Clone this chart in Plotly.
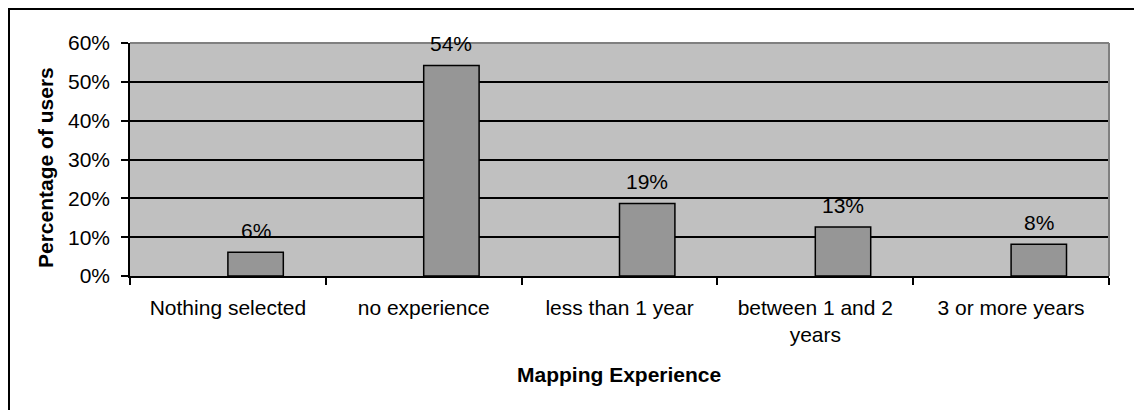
import plotly.graph_objects as go

# Survey result: share of users by mapping experience
categories = [
    "Nothing selected",
    "no experience",
    "less than 1 year",
    "between 1 and 2<br>years",
    "3 or more years",
]
share_of_users = [0.061, 0.542, 0.187, 0.126, 0.082]
y_tick_values = [0, 0.1, 0.2, 0.3, 0.4, 0.5, 0.6]

x_title = "Mapping Experience"
y_title = "Percentage of users"

# Canvas and plot-area geometry (pixels)
W, H = 1134, 410
L, R, T, B = 130, 25, 43, 134
PW, PH = W - L - R, H - T - B

BAR_WIDTH = 0.283          # in category units; bars sit right of centre
FONT = "Liberation Sans, Arial, sans-serif"
PLOT_BG = "#C0C0C0"
BAR_FILL = "#969696"


def px_x(px):
    return (px - L) / PW


def px_y(py):
    return (H - B - py) / PH


fig = go.Figure(
    go.Bar(
        x=categories,
        y=share_of_users,
        offset=0,
        width=BAR_WIDTH,
        marker=dict(color=BAR_FILL, line=dict(color="black", width=1.5)),
        hoverinfo="skip",
    )
)

# Value labels above each bar
for i, v in enumerate(share_of_users):
    fig.add_annotation(
        x=i + BAR_WIDTH / 2,
        y=v,
        xref="x",
        yref="y",
        text=f"{v * 100:.0f}%",
        showarrow=False,
        yanchor="middle",
        yshift=22,
        font=dict(family=FONT, size=21, color="black"),
    )

# Axis titles
fig.add_annotation(
    x=px_x(619), y=px_y(374), xref="paper", yref="paper",
    text=f"<b>{x_title}</b>", showarrow=False,
    xanchor="center", yanchor="middle",
    font=dict(family=FONT, size=21, color="black"),
)
fig.add_annotation(
    x=px_x(45), y=px_y(168), xref="paper", yref="paper",
    text=f"<b>{y_title}</b>", showarrow=False, textangle=-90,
    xanchor="center", yanchor="middle",
    font=dict(family=FONT, size=21, color="black"),
)

# Plot-area frame: grey top and right edges
fig.add_shape(type="line", xref="paper", yref="paper", x0=0, x1=1, y0=1, y1=1,
              line=dict(color="#808080", width=2), layer="above")
fig.add_shape(type="line", xref="paper", yref="paper", x0=1, x1=1, y0=0, y1=1,
              line=dict(color="#808080", width=2), layer="above")

# Chart-area border
fig.add_shape(type="rect", xref="paper", yref="paper",
              x0=px_x(9), x1=px_x(W + 20), y0=px_y(9), y1=px_y(H + 20),
              line=dict(color="black", width=2), fillcolor="rgba(0,0,0,0)",
              layer="above")

fig.update_layout(
    width=W,
    height=H,
    margin=dict(l=L, r=R, t=T, b=B, pad=0),
    paper_bgcolor="white",
    plot_bgcolor=PLOT_BG,
    showlegend=False,
    font=dict(family=FONT, size=21, color="black"),
    xaxis=dict(
        type="category",
        range=[-0.5, len(categories) - 0.5],
        tickson="boundaries",
        ticks="outside",
        ticklen=7,
        tickwidth=1.5,
        tickcolor="black",
        ticklabelstandoff=12,
        showline=True,
        linecolor="black",
        linewidth=1.5,
        showgrid=False,
        tickfont=dict(family=FONT, size=21, color="black"),
        fixedrange=True,
    ),
    yaxis=dict(
        range=[0, 0.6],
        tickvals=y_tick_values,
        tickformat=".0%",
        ticks="outside",
        ticklen=7,
        tickwidth=1.5,
        tickcolor="black",
        ticklabelstandoff=7,
        showline=True,
        linecolor="black",
        linewidth=1.5,
        showgrid=True,
        gridcolor="black",
        gridwidth=1.5,
        zeroline=False,
        tickfont=dict(family=FONT, size=21, color="black"),
        fixedrange=True,
    ),
)

fig.write_html("out.html", config={"displayModeBar": False})
